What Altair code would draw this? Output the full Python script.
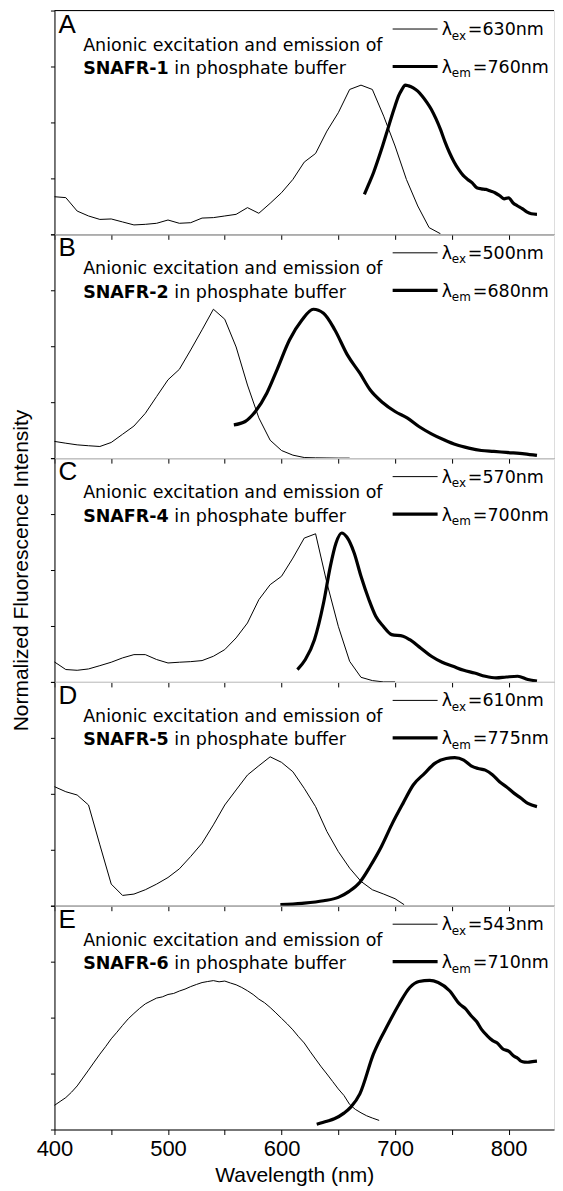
import altair as alt
import pandas as pd

# ---------------- data ----------------
XTICKS = [400, 450, 500, 550, 600, 650, 700, 750, 800]
YTICKS = [0, 0.375, 0.75, 1.125, 1.5]

letters = ["A", "B", "C", "D", "E"]
compounds = ["SNAFR-1", "SNAFR-2", "SNAFR-4", "SNAFR-5", "SNAFR-6"]
ex_labels = ["=630nm", "=500nm", "=570nm", "=610nm", "=543nm"]
em_labels = ["=760nm", "=680nm", "=700nm", "=775nm", "=710nm"]

# Panel A
a_ex_nm = [400, 410, 420, 430, 440, 450, 460, 470, 480, 490, 500, 510, 520, 530, 540, 550, 560, 570,
           580, 590, 600, 610, 620, 630, 640, 650, 660, 670, 680, 690, 700, 710, 720, 730, 740]
a_ex_v = [0.252, 0.246, 0.156, 0.123, 0.100, 0.103, 0.083, 0.063, 0.067, 0.074, 0.096, 0.074, 0.078,
          0.109, 0.112, 0.123, 0.134, 0.179, 0.141, 0.208, 0.279, 0.368, 0.484, 0.542, 0.692, 0.815,
          0.971, 1.0, 0.971, 0.792, 0.592, 0.368, 0.190, 0.045, 0.004]
a_em_nm = [673, 677, 681, 685, 689, 693, 697, 700, 703, 706, 709, 712, 716, 720, 724, 728, 732, 736,
           740, 744, 748, 752, 756, 760, 764, 768, 772, 776, 780, 784, 788, 792, 796, 800, 804, 808,
           812, 816, 820, 825]
a_em_v = [0.268, 0.34, 0.413, 0.50, 0.592, 0.69, 0.79, 0.86, 0.926, 0.97, 1.0, 0.995, 0.982, 0.96,
          0.926, 0.885, 0.837, 0.775, 0.703, 0.62, 0.547, 0.485, 0.435, 0.395, 0.368, 0.345, 0.312,
          0.305, 0.301, 0.29, 0.279, 0.26, 0.238, 0.245, 0.21, 0.19, 0.172, 0.15, 0.138, 0.134]

# Panel B
b_ex_nm = [400, 410, 420, 430, 440, 450, 460, 470, 480, 490, 500, 510, 520, 530, 540, 550, 560, 570,
           580, 590, 600, 610, 620, 630, 640, 650, 660]
b_ex_v = [0.112, 0.10, 0.089, 0.083, 0.078, 0.105, 0.16, 0.215, 0.30, 0.413, 0.525, 0.595, 0.725,
          0.86, 0.998, 0.931, 0.745, 0.49, 0.27, 0.12, 0.051, 0.02, 0.004, 0.002, 0.001, 0.0, 0.0]
b_em_nm = [558, 568, 577, 587, 596, 607, 618, 628, 637, 647, 658, 669, 678, 689, 700, 711, 721, 732,
           743, 754, 765, 776, 787, 798, 814, 825]
b_em_v = [0.223, 0.2455, 0.3125, 0.435, 0.592, 0.792, 0.926, 0.998, 0.971, 0.859, 0.692, 0.569,
          0.458, 0.373, 0.3125, 0.268, 0.212, 0.163, 0.123, 0.089, 0.067, 0.051, 0.045, 0.038,
          0.029, 0.018]

# Panel C
c_ex_nm = [400, 410, 420, 430, 440, 450, 460, 470, 480, 490, 500, 510, 520, 530, 540, 550, 560, 570,
           580, 590, 600, 610, 620, 630, 640, 650, 660, 670, 680, 690, 700]
c_ex_v = [0.134, 0.083, 0.078, 0.087, 0.109, 0.132, 0.161, 0.183, 0.183, 0.150, 0.127, 0.132, 0.136,
          0.143, 0.172, 0.2165, 0.295, 0.395, 0.551, 0.652, 0.708, 0.830, 0.964, 0.993, 0.663,
          0.373, 0.138, 0.031, 0.009, 0.0, 0.0]
c_em_nm = [614, 621, 629, 637, 643, 648, 653, 657.5, 664, 670, 677, 683, 689.6, 697, 707, 713, 722.5,
           732, 741.5, 751, 760.5, 770, 779.5, 789, 798, 808, 817, 825]
c_em_v = [0.083, 0.150, 0.283, 0.529, 0.775, 0.931, 0.998, 0.971, 0.864, 0.708, 0.551, 0.440, 0.373,
          0.317, 0.306, 0.283, 0.228, 0.172, 0.132, 0.105, 0.078, 0.060, 0.038, 0.027, 0.033, 0.038,
          0.016, 0.005]

# Panel D
d_ex_nm = [400, 410, 420, 430, 440, 450, 460, 470, 480, 490, 500, 510, 520, 530, 540, 550, 560, 570,
           580, 590, 600, 610, 620, 630, 640, 650, 660, 670, 680, 690, 700, 708]
d_ex_v = [0.798, 0.764, 0.742, 0.675, 0.408, 0.145, 0.069, 0.078, 0.107, 0.145, 0.189, 0.247, 0.330,
          0.419, 0.542, 0.675, 0.776, 0.876, 0.938, 0.998, 0.961, 0.898, 0.787, 0.664, 0.497, 0.363,
          0.252, 0.163, 0.107, 0.078, 0.047, 0.007]
d_em_nm = [599, 618, 637, 650, 659.6, 669, 678, 688, 697, 707, 716, 726, 735, 745, 752.6, 760.5, 767,
           773, 779.5, 786, 792, 798, 805, 811, 817, 825]
d_em_v = [0.007, 0.016, 0.033, 0.056, 0.096, 0.158, 0.263, 0.397, 0.542, 0.686, 0.809, 0.887, 0.954,
          0.987, 0.992, 0.976, 0.938, 0.920, 0.909, 0.876, 0.831, 0.798, 0.753, 0.720, 0.686, 0.664]

# Panel E
e_ex_nm = [400, 405, 410, 415, 420, 425, 430, 435, 440, 445, 450, 455, 460, 465, 470, 475, 480, 485,
           490, 495, 500, 505, 510, 515, 520, 525, 530, 535, 540, 545, 550, 555, 560, 565, 570, 575,
           580, 585, 590, 595, 600, 605, 610, 615, 620, 625, 630, 635, 640, 645, 650, 655, 660, 665,
           670, 675, 680, 686]
e_ex_v = [0.162, 0.188, 0.214, 0.25, 0.292, 0.345, 0.398, 0.452, 0.505, 0.555, 0.608, 0.652, 0.698,
          0.742, 0.778, 0.812, 0.842, 0.862, 0.881, 0.889, 0.905, 0.912, 0.928, 0.941, 0.958, 0.972,
          0.985, 0.992, 0.998, 0.99, 0.995, 0.982, 0.97, 0.952, 0.93, 0.905, 0.874, 0.85, 0.818,
          0.782, 0.745, 0.708, 0.668, 0.622, 0.58, 0.525, 0.472, 0.42, 0.372, 0.322, 0.272, 0.228,
          0.168, 0.135, 0.112, 0.092, 0.077, 0.061]
e_em_nm = [631, 640, 646.5, 655, 661, 669, 681, 694, 703.5, 713, 721, 730.5, 738, 748, 757, 762, 767,
           772, 776, 781, 786, 790, 795, 800, 805, 808, 811, 814, 817, 821, 825]
e_em_v = [0.035, 0.055, 0.072, 0.11, 0.150, 0.239, 0.507, 0.707, 0.840, 0.952, 0.992, 1.0, 0.985,
          0.930, 0.840, 0.81, 0.763, 0.722, 0.673, 0.63, 0.596, 0.58, 0.54, 0.525, 0.49, 0.478, 0.458,
          0.452, 0.451, 0.455, 0.458]

series = [
    (a_ex_nm, a_ex_v, a_em_nm, a_em_v),
    (b_ex_nm, b_ex_v, b_em_nm, b_em_v),
    (c_ex_nm, c_ex_v, c_em_nm, c_em_v),
    (d_ex_nm, d_ex_v, d_em_nm, d_em_v),
    (e_ex_nm, e_ex_v, e_em_nm, e_em_v),
]

# ---------------- styling ----------------
W = 500
H = 224
AX_FONT = "Liberation Sans"
ANN_FONT = "DejaVu Sans"
INK = "#000"


def one_text(s, x, y, size, weight="normal", font=ANN_FONT):
    return alt.Chart(pd.DataFrame({"t": [s]})).mark_text(
        align="left", baseline="alphabetic", fontSize=size, fontWeight=weight,
        font=font, color=INK
    ).encode(text="t:N", x=alt.value(x), y=alt.value(y))


def seg(x1, x2, y, w):
    return alt.Chart(pd.DataFrame({"k": [0]})).mark_rule(color=INK, strokeWidth=w).encode(
        x=alt.value(x1), x2=alt.value(x2), y=alt.value(y))


def panel(i):
    ex_nm, ex_v, em_nm, em_v = series[i]
    last = i == len(series) - 1
    if last:
        xax = alt.Axis(values=XTICKS, tickSize=5, tickColor=INK, domainColor=INK, grid=False,
                       format="d", labelExpr="datum.value % 100 == 0 ? datum.label : ''",
                       labelFont=AX_FONT, labelFontSize=22, labelColor=INK, labelPadding=4,
                       labelOverlap=False, labelFlush=False,
                       title="Wavelength (nm)", titleFont=AX_FONT, titleFontSize=21,
                       titleFontWeight="normal", titleColor=INK, titleX=240, titleY=52,
                       titleAlign="center", titleBaseline="alphabetic")
    else:
        xax = alt.Axis(values=XTICKS, tickSize=5, tickColor=INK, domainColor=INK, grid=False,
                       labels=False, title="")
    if i == 2:
        yax = alt.Axis(values=YTICKS, tickSize=4, tickColor=INK, domainColor=INK, grid=False,
                       labels=False, title="Normalized Fluorescence Intensity", titleFont=AX_FONT,
                       titleFontSize=21, titleFontWeight="normal", titleColor=INK, titleX=-27,
                       titleY=H / 2, titleAngle=270, titleAlign="center",
                       titleBaseline="alphabetic")
    else:
        yax = alt.Axis(values=YTICKS, tickSize=4, tickColor=INK, domainColor=INK, grid=False,
                       labels=False, title="")

    xs = alt.Scale(domain=[400, 840], nice=False, zero=False)
    ys = alt.Scale(domain=[0, 1.5], nice=False)

    ex = alt.Chart(pd.DataFrame({"nm": ex_nm, "v": ex_v})).mark_line(
        color=INK, strokeWidth=1).encode(
        x=alt.X("nm:Q", scale=xs, axis=xax), y=alt.Y("v:Q", scale=ys, axis=yax))
    em = alt.Chart(pd.DataFrame({"nm": em_nm, "v": em_v})).mark_line(
        color=INK, strokeWidth=3.2, interpolate="monotone", strokeJoin="round").encode(
        x=alt.X("nm:Q", scale=xs), y=alt.Y("v:Q", scale=ys))

    layers = [ex, em,
              one_text(letters[i], 4, 22, 26, font=AX_FONT),
              one_text("Anionic excitation and emission of", 28.7, 40, 17.5),
              one_text(compounds[i], 28.7, 63.5, 17.5, weight="bold"),
              one_text("in phosphate buffer", 120, 63.5, 17.5),
              seg(338.5, 383.5, 18.5, 1),
              one_text("λ", 387.7, 24.5, 17.5),
              one_text("ex", 397.7, 29, 12),
              one_text(ex_labels[i], 413.7, 24.5, 17.5),
              seg(338.5, 383.5, 56, 3.2),
              one_text("λ", 387.7, 62.5, 17.5),
              one_text("em", 397.7, 67, 12),
              one_text(em_labels[i], 418.7, 62.5, 17.5),
              ]
    if i == 0:
        layers.append(seg(0, W, 0, 1))
    return alt.layer(*layers).properties(width=W, height=H)


chart = alt.vconcat(*[panel(i) for i in range(5)], spacing=0, bounds="flush").properties(
    padding={"left": 1.5, "top": 1, "right": 0, "bottom": 0}
).configure_view(stroke="transparent").configure(background="white")

chart.save("out.html", embed_options={"renderer": "svg", "actions": False})
